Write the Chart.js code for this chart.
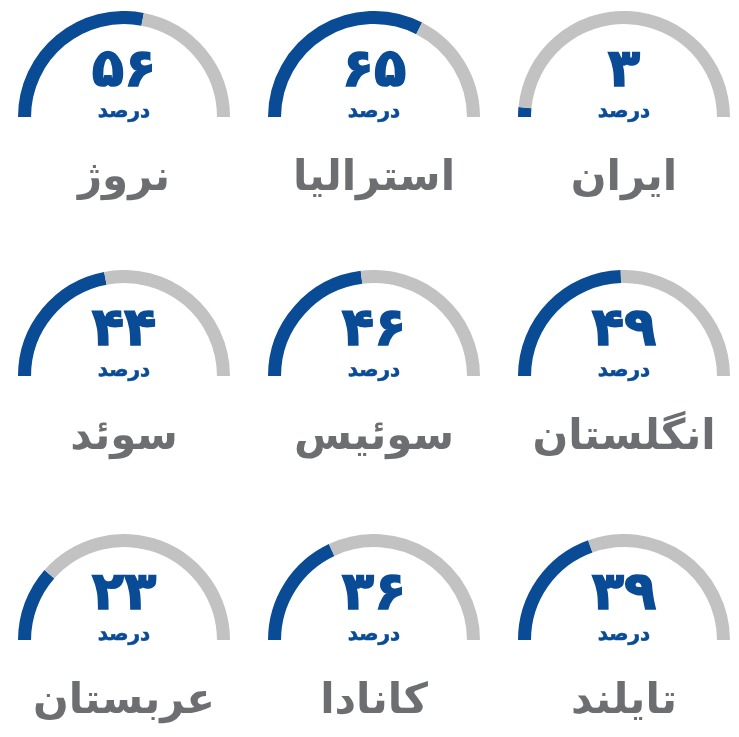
<!DOCTYPE html>
<html lang="fa" dir="rtl">
<head>
<meta charset="utf-8">
<script src="https://cdn.jsdelivr.net/npm/chart.js@4.4.1/dist/chart.umd.min.js"></script>
<style>
  html, body { margin: 0; padding: 0; background: #ffffff; }
  body { width: 739px; height: 737px; position: relative; overflow: hidden; font-family: "DejaVu Sans", sans-serif; }
  .gauge { position: absolute; width: 212px; height: 106px; }
  .gauge canvas { display: block; }
  .num { position: absolute; width: 212px; text-align: center; color: #0a4b96; font-weight: bold; font-size: 53px; line-height: 1; -webkit-text-stroke: 1.5px #0a4b96; }
  .unit { position: absolute; width: 212px; text-align: center; color: #0a4b96; font-weight: bold; font-size: 20px; line-height: 1; -webkit-text-stroke: 0.6px #0a4b96; }
  .name { position: absolute; width: 240px; text-align: center; color: #6d6e71; font-weight: bold; font-size: 42px; line-height: 1; white-space: nowrap; }
</style>
</head>
<body>
<script>
// Data (reading order: right to left, top to bottom)
const countries = ["ایران", "استرالیا", "نروژ", "انگلستان", "سوئیس", "سوئد", "تایلند", "کانادا", "عربستان"];
const values = [3, 65, 56, 49, 46, 44, 39, 36, 23];
const unitLabel = "درصد";

const blue = "#0a4b96";
const grey = "#c2c2c2";
const colCenters = [624, 374, 124];   // right to left
const rowBottoms = [117, 376, 640];
const R = 106;

const faDigits = ["۰","۱","۲","۳","۴","۵","۶","۷","۸","۹"];
function toFa(n) { return String(n).replace(/\d/g, d => faDigits[+d]); }

values.forEach((v, i) => {
  const cx = colCenters[i % 3];
  const by = rowBottoms[Math.floor(i / 3)];

  const wrap = document.createElement("div");
  wrap.className = "gauge";
  wrap.style.left = (cx - R) + "px";
  wrap.style.top = (by - R) + "px";
  const cv = document.createElement("canvas");
  cv.width = 2 * R; cv.height = R;
  cv.style.width = (2 * R) + "px"; cv.style.height = R + "px";
  wrap.appendChild(cv);
  document.body.appendChild(wrap);

  new Chart(cv, {
    type: "doughnut",
    data: {
      labels: [countries[i], ""],
      datasets: [{
        data: [v, 100 - v],
        backgroundColor: [blue, grey],
        borderWidth: 0,
        hoverOffset: 0
      }]
    },
    options: {
      responsive: false,
      animation: false,
      rotation: -90,
      circumference: 180,
      cutout: "87.7%",
      layout: { padding: 0 },
      events: [],
      plugins: { legend: { display: false }, tooltip: { enabled: false } }
    }
  });

  const num = document.createElement("div");
  num.className = "num";
  num.textContent = toFa(v);
  num.style.left = (cx - R) + "px";
  num.style.top = (by - 76) + "px";
  document.body.appendChild(num);

  const unit = document.createElement("div");
  unit.className = "unit";
  unit.textContent = unitLabel;
  unit.style.left = (cx - R) + "px";
  unit.style.top = (by - 17) + "px";
  document.body.appendChild(unit);

  const name = document.createElement("div");
  name.className = "name";
  name.textContent = countries[i];
  name.style.left = (cx - 120) + "px";
  name.style.top = (by + 38) + "px";
  document.body.appendChild(name);
});
</script>
</body>
</html>
